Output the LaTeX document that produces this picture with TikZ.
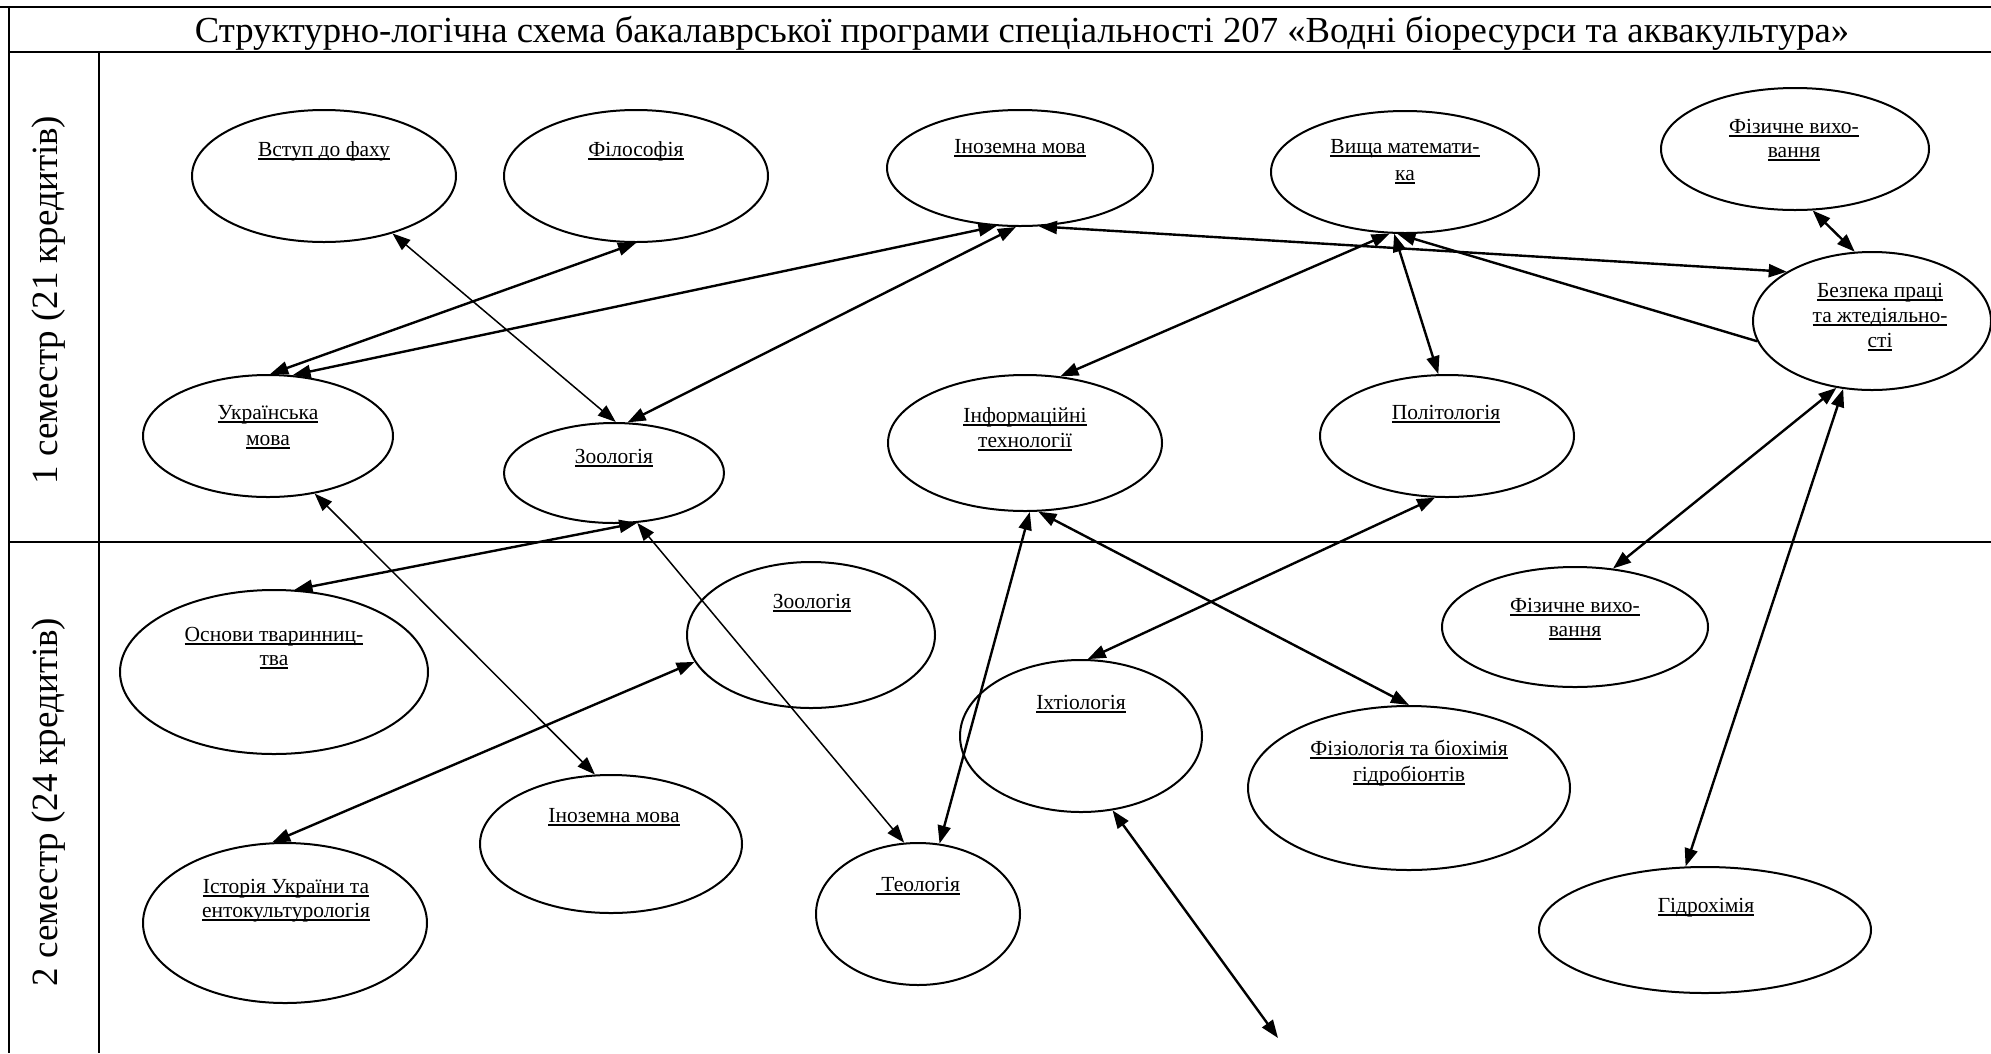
\documentclass[tikz,border=0pt]{standalone}
\usepackage{fontspec}
\setmainfont{Liberation Serif}
\usetikzlibrary{shapes.geometric,arrows.meta}
\newcommand\myul[1]{\setbox0=\hbox{#1}\rlap{\rule[-3.5pt]{\wd0}{1.3pt}}\box0}
\begin{document}
\begin{tikzpicture}[x=1pt,y=-1pt,
  ell/.style={draw, ellipse, line width=2pt, inner sep=0pt},
  txt/.style={anchor=base, inner sep=0pt, font=\fontsize{21.5}{25}\selectfont},
  tbl/.style={line width=2.8pt},
  arr/.style={line width=2.4pt, {Triangle[length=18pt,width=13pt]}-{Triangle[length=18pt,width=13pt]}},
  arrthin/.style={line width=1.5pt, {Triangle[length=18pt,width=13pt]}-{Triangle[length=18pt,width=13pt]}},
  arrone/.style={line width=2.4pt, -{Triangle[length=18pt,width=13pt]}},
  sem/.style={rotate=90, inner sep=0pt, font=\fontsize{37}{40}\selectfont}
]
\useasboundingbox (0,0) rectangle (1991,1053);
% table
\draw[tbl] (0,7) -- (1991,7);
\draw[tbl] (9,52) -- (1991,52);
\draw[tbl] (9,542) -- (1991,542);
\draw[tbl] (9,7) -- (9,1053);
\draw[tbl] (99,52) -- (99,1053);
\node[anchor=base, inner sep=0pt, font=\fontsize{36.7}{40}\selectfont] (title) at (1022,42)
  {Структурно-логічна схема бакалаврської програми спеціальності 207 «Водні біоресурси та аквакультура»};
\node[sem] (sem1) at (49,300) {1 семестр (21 кредитів)};
\node[sem] (sem2) at (49,802) {2 семестр (24 кредитів)};
% semester 1 nodes
\node[ell, minimum width=264pt, minimum height=132pt] (vst) at (324,176) {};
\node[txt] (vst-t) at (324,156) {\myul{Вступ до фаху}};
\node[ell, minimum width=264pt, minimum height=132pt] (fil) at (636,176) {};
\node[txt] (fil-t) at (636,156) {\myul{Філософія}};
\node[ell, minimum width=266pt, minimum height=116pt] (ino1) at (1020,168) {};
\node[txt] (ino1-t) at (1020,153) {\myul{Іноземна мова}};
\node[ell, minimum width=268pt, minimum height=122pt] (vysh) at (1405,172) {};
\node[txt] (vysh-t1) at (1405,153) {\myul{Вища математи-}};
\node[txt] (vysh-t2) at (1405,180) {\myul{ка}};
\node[ell, minimum width=268pt, minimum height=122pt] (fiz1) at (1795,149) {};
\node[txt] (fiz1-t1) at (1794,133) {\myul{Фізичне вихо-}};
\node[txt] (fiz1-t2) at (1794,157) {\myul{вання}};
\node[ell, minimum width=238pt, minimum height=138pt] (bez) at (1872,321) {};
\node[txt] (bez-t1) at (1880,297) {\myul{Безпека праці}};
\node[txt] (bez-t2) at (1880,322) {\myul{та жтедіяльно-}};
\node[txt] (bez-t3) at (1880,347) {\myul{сті}};
\node[ell, minimum width=250pt, minimum height=122pt] (ukr) at (268,436) {};
\node[txt] (ukr-t1) at (268,419) {\myul{Українська}};
\node[txt] (ukr-t2) at (268,445) {\myul{мова}};
\node[ell, minimum width=220pt, minimum height=100pt] (zoo1) at (614,473) {};
\node[txt] (zoo1-t) at (614,463) {\myul{Зоологія}};
\node[ell, minimum width=274pt, minimum height=136pt] (inf) at (1025,443) {};
\node[txt] (inf-t1) at (1025,422) {\myul{Інформаційні}};
\node[txt] (inf-t2) at (1025,447) {\myul{технології}};
\node[ell, minimum width=254pt, minimum height=122pt] (pol) at (1447,436) {};
\node[txt] (pol-t) at (1446,419) {\myul{Політологія}};
% semester 2 nodes
\node[ell, minimum width=308pt, minimum height=164pt] (osn) at (274,672) {};
\node[txt] (osn-t1) at (274,641) {\myul{Основи тваринниц-}};
\node[txt] (osn-t2) at (274,665) {\myul{тва}};
\node[ell, minimum width=248pt, minimum height=146pt] (zoo2) at (811,635) {};
\node[txt] (zoo2-t) at (812,608) {\myul{Зоологія}};
\node[ell, minimum width=262pt, minimum height=138pt] (ino2) at (611,844) {};
\node[txt] (ino2-t) at (614,822) {\myul{Іноземна мова}};
\node[ell, minimum width=284pt, minimum height=160pt] (ist) at (285,923) {};
\node[txt] (ist-t1) at (286,893) {\myul{Історія України та}};
\node[txt] (ist-t2) at (286,917) {\myul{ентокультурологія}};
\node[ell, minimum width=204pt, minimum height=142pt] (teo) at (918,914) {};
\node[txt] (teo-t) at (918,891) {\myul{\ Теологія}};
\node[ell, minimum width=242pt, minimum height=152pt] (ikh) at (1081,736) {};
\node[txt] (ikh-t) at (1081,709) {\myul{Іхтіологія}};
\node[ell, minimum width=322pt, minimum height=164pt] (fzl) at (1409,788) {};
\node[txt] (fzl-t1) at (1409,755) {\myul{Фізіологія та біохімія}};
\node[txt] (fzl-t2) at (1409,781) {\myul{гідробіонтів}};
\node[ell, minimum width=266pt, minimum height=120pt] (fiz2) at (1575,627) {};
\node[txt] (fiz2-t1) at (1575,612) {\myul{Фізичне вихо-}};
\node[txt] (fiz2-t2) at (1575,636) {\myul{вання}};
\node[ell, minimum width=332pt, minimum height=126pt] (hid) at (1705,930) {};
\node[txt] (hid-t) at (1706,912) {\myul{Гідрохімія}};
\coordinate (free) at (1278,1038);
% connectors
\draw[arrthin] (vst.-40.4) -- (zoo1.88);
\draw[arr] (fil.south) -- (ukr.88);
\draw[arr] (ino1.-112.6) -- (ukr.68.6);
\draw[arr] (zoo1.75) -- (ino1.-94.5);
\draw[arr] (ino1.-72.4) -- (bez.150.4);
\draw[arr] (vysh.-104.5) -- (inf.62.5);
\draw[arr] (vysh.-100.7) -- (pol.98);
\draw[arrone] (bez.190.8) -- (vysh.-97);
\draw[arr] (fiz1.-74.8) -- (bez.104.6);
\draw[arr] (bez.-118) -- (fiz2.57.2);
\draw[arr] (bez.-113) -- (hid.107);
\draw[arr] (zoo1.-65.8) -- (osn.76);
\draw[arrthin] (ukr.-51.2) -- (ino2.103.8);
\draw[arrthin] (zoo1.-65.2) -- (teo.101);
\draw[arr] (inf.-86.3) -- (teo.73);
\draw[arr] (inf.-79.7) -- (fzl.north);
\draw[arr] (pol.-101.5) -- (ikh.85);
\draw[arr] (zoo2.-167) -- (ist.99.5);
\draw[arr] (ikh.-67) -- (free);
\end{tikzpicture}
\end{document}
